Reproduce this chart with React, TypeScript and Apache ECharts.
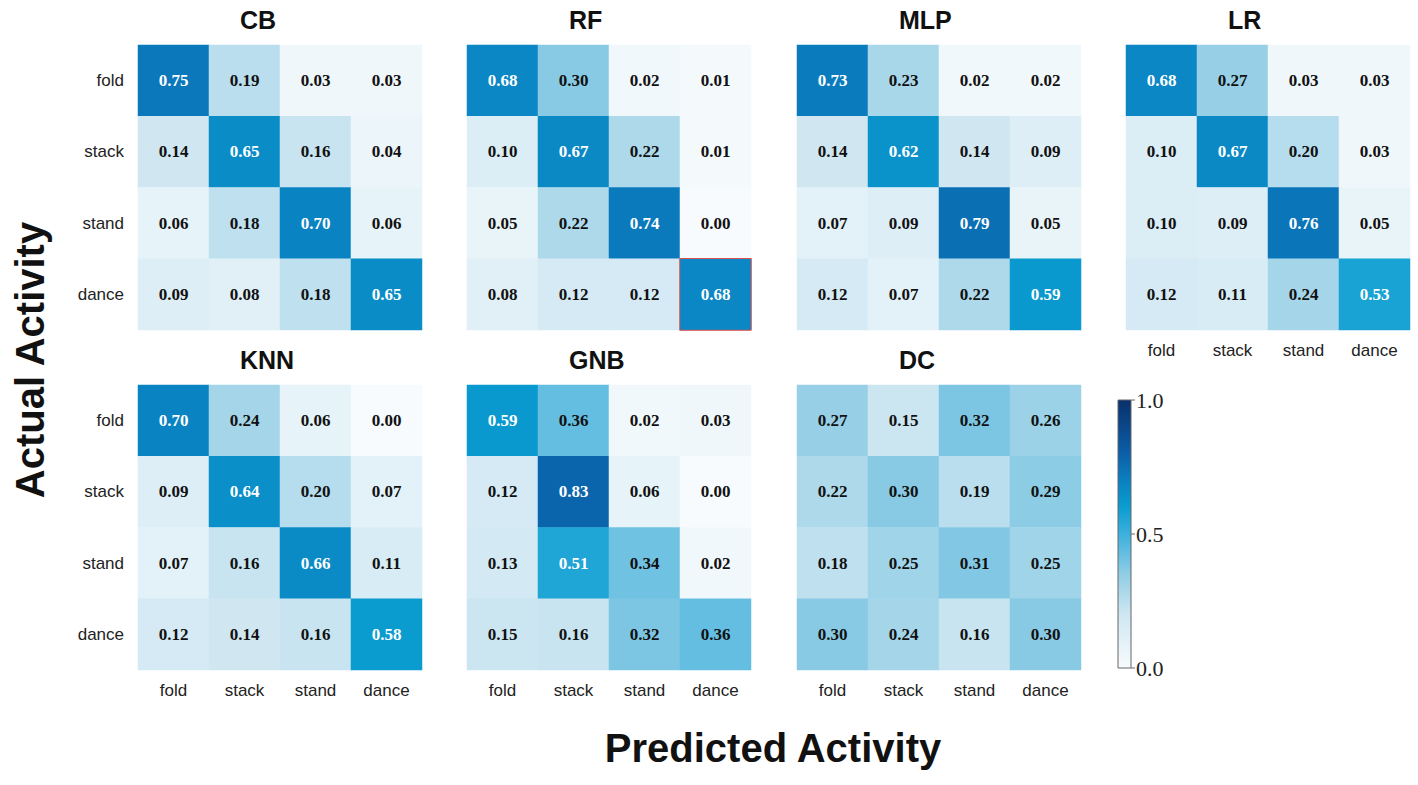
import { useEffect, useRef } from "react";
import * as echarts from "echarts";

const classes = ["fold", "stack", "stand", "dance"];
const models = ["CB", "RF", "MLP", "LR", "KNN", "GNB", "DC"];

// rows = actual (fold..dance), cols = predicted
const cb = [[0.75, 0.19, 0.03, 0.03], [0.14, 0.65, 0.16, 0.04], [0.06, 0.18, 0.70, 0.06], [0.09, 0.08, 0.18, 0.65]];
const rf = [[0.68, 0.30, 0.02, 0.01], [0.10, 0.67, 0.22, 0.01], [0.05, 0.22, 0.74, 0.00], [0.08, 0.12, 0.12, 0.68]];
const mlp = [[0.73, 0.23, 0.02, 0.02], [0.14, 0.62, 0.14, 0.09], [0.07, 0.09, 0.79, 0.05], [0.12, 0.07, 0.22, 0.59]];
const lr = [[0.68, 0.27, 0.03, 0.03], [0.10, 0.67, 0.20, 0.03], [0.10, 0.09, 0.76, 0.05], [0.12, 0.11, 0.24, 0.53]];
const knn = [[0.70, 0.24, 0.06, 0.00], [0.09, 0.64, 0.20, 0.07], [0.07, 0.16, 0.66, 0.11], [0.12, 0.14, 0.16, 0.58]];
const gnb = [[0.59, 0.36, 0.02, 0.03], [0.12, 0.83, 0.06, 0.00], [0.13, 0.51, 0.34, 0.02], [0.15, 0.16, 0.32, 0.36]];
const dc = [[0.27, 0.15, 0.32, 0.26], [0.22, 0.30, 0.19, 0.29], [0.18, 0.25, 0.31, 0.25], [0.30, 0.24, 0.16, 0.30]];
const matrices = [cb, rf, mlp, lr, knn, gnb, dc];
const colorTicks = ["1.0", "0.5", "0.0"];

const stops: [number, string][] = [
  [0, "#f7fbfd"], [0.2, "#cfe7f2"], [0.35, "#90cde5"], [0.5, "#3cb0dd"],
  [0.6, "#0a9dd0"], [0.7, "#0a80c0"], [0.8, "#0b5fa8"], [1, "#08306b"],
];

const lefts = [138, 467, 797, 1126, 138, 467, 797];
const tops = [45, 45, 45, 45, 385, 385, 385];
const W = 284, H = 285;

export default function App() {
  const ref = useRef<HTMLDivElement | null>(null);

  useEffect(() => {
    document.body.style.margin = "0";
    if (!ref.current) return;
    const chart = echarts.init(ref.current, undefined, { renderer: "svg" });

    const grids = lefts.map((l, i) => ({ left: l, top: tops[i], width: W, height: H }));
    const xAxis = grids.map((_, i) => ({
      type: "category", gridIndex: i, data: classes,
      axisLine: { show: false }, axisTick: { show: false }, splitArea: { show: false },
      axisLabel: { show: i >= 3, fontSize: 17, color: "#222", fontFamily: "Arial", margin: 12 },
    }));
    const yAxis = grids.map((_, i) => ({
      type: "category", gridIndex: i, data: classes, inverse: true,
      axisLine: { show: false }, axisTick: { show: false }, splitArea: { show: false },
      axisLabel: { show: i === 0 || i === 4, fontSize: 17, color: "#222", fontFamily: "Arial", margin: 14 },
    }));
    const series = matrices.map((m, i) => ({
      type: "heatmap", xAxisIndex: i, yAxisIndex: i,
      data: m.flatMap((row, r) =>
        row.map((v, c) => ({
          value: [c, r, v],
          label: { color: v > 0.5 ? "#fff" : "#111" },
          itemStyle: i === 1 && r === 3 && c === 3 ? { borderColor: "#e05050", borderWidth: 1 } : undefined,
        }))
      ),
      label: {
        show: true, fontSize: 17, fontWeight: "bold", fontFamily: "Times New Roman, Liberation Serif, serif",
        formatter: (p: any) => p.value[2].toFixed(2),
      },
    }));

    const grad = new echarts.graphic.LinearGradient(0, 1, 0, 0, stops.map(([o, c]) => ({ offset: o, color: c })));
    const cbTop = 400, cbH = 268, cbLeft = 1118;
    const graphic: any[] = [
      ...models.map((m, i) => ({
        type: "text", left: lefts[i] + W / 2 - 40, top: tops[i] - 38,
        style: { text: m, width: 80, align: "center", font: "bold 25px Arial", fill: "#111" },
      })),
      { type: "rect", shape: { x: cbLeft, y: cbTop, width: 13, height: cbH }, style: { fill: grad, stroke: "#666", lineWidth: 1 } },
      ...colorTicks.map((t, k) => ({
        type: "text", x: cbLeft + 18, y: cbTop + (k * cbH) / 2,
        style: { text: t, font: "22px Times New Roman, Liberation Serif, serif", fill: "#222", verticalAlign: "middle" },
      })),
      ...colorTicks.map((_, k) => ({
        type: "line", shape: { x1: cbLeft + 13, y1: cbTop + (k * cbH) / 2, x2: cbLeft + 17, y2: cbTop + (k * cbH) / 2 },
        style: { stroke: "#666" },
      })),
      {
        type: "text", x: 50, y: 360, rotation: Math.PI / 2,
        style: { text: "Actual Activity", font: "bold 40px Arial", fill: "#111", align: "center", verticalAlign: "bottom" },
      },
      {
        type: "text", x: 773, y: 748,
        style: { text: "Predicted Activity", font: "bold 40px Arial", fill: "#111", align: "center", verticalAlign: "middle" },
      },
    ];

    chart.setOption({
      animation: false,
      grid: grids, xAxis, yAxis, series,
      visualMap: {
        show: false, min: 0, max: 1, seriesIndex: [0, 1, 2, 3, 4, 5, 6], dimension: 2,
        inRange: { color: stops.map((s) => s[1]) },
      },
      graphic,
    });
    return () => chart.dispose();
  }, []);

  return <div ref={ref} style={{ width: 1418, height: 785, background: "#fff" }} />;
}
